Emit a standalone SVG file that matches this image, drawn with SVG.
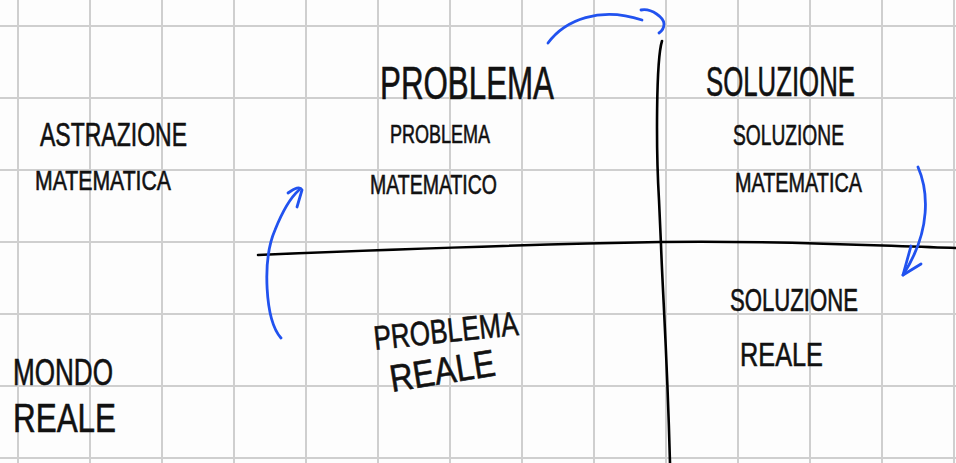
<svg xmlns="http://www.w3.org/2000/svg" width="956" height="463" viewBox="0 0 956 463">
<style>
.grid line{stroke:#cfcfcf;stroke-width:2}
.axis{fill:none;stroke:#000;stroke-width:2.6;stroke-linecap:round}
.arrow{fill:none;stroke:#2152ef;stroke-width:2.8;stroke-linecap:round;stroke-linejoin:round}
text{font-family:"Liberation Sans","DejaVu Sans",sans-serif;fill:#111;stroke:#111;stroke-width:0.6}
</style>
<rect width="956" height="463" fill="#fdfdfd"/>
<g class="grid">
<line x1="18" y1="0" x2="18" y2="463"/><line x1="90" y1="0" x2="90" y2="463"/><line x1="162" y1="0" x2="162" y2="463"/><line x1="234" y1="0" x2="234" y2="463"/><line x1="306" y1="0" x2="306" y2="463"/><line x1="378" y1="0" x2="378" y2="463"/><line x1="450" y1="0" x2="450" y2="463"/><line x1="522" y1="0" x2="522" y2="463"/><line x1="594" y1="0" x2="594" y2="463"/><line x1="666" y1="0" x2="666" y2="463"/><line x1="738" y1="0" x2="738" y2="463"/><line x1="810" y1="0" x2="810" y2="463"/><line x1="882" y1="0" x2="882" y2="463"/><line x1="954" y1="0" x2="954" y2="463"/>
<line x1="0" y1="26" x2="956" y2="26"/><line x1="0" y1="98" x2="956" y2="98"/><line x1="0" y1="170" x2="956" y2="170"/><line x1="0" y1="242" x2="956" y2="242"/><line x1="0" y1="314" x2="956" y2="314"/><line x1="0" y1="386" x2="956" y2="386"/><line x1="0" y1="458" x2="956" y2="458"/>
</g>
<g id="axes">
<path class="axis" d="M662,41 C656,60 656,150 659,200 L661,245 C663,300 667,350 670,463"/>
<path class="axis" d="M258,255 C400,249 550,244 660,242 C780,240 880,246 956,248"/>
</g>
<g id="connectors">
<path class="arrow" d="M548,43 C565,20 600,6 642,20"/>
<path class="arrow" d="M641,10 C652,8 664,18 664,24 C664,28 662,31 659,33"/>
<path class="arrow" d="M281,338 C265,320 262,260 275,230 C283,210 290,198 299,190"/>
<path class="arrow" d="M288,193 C295,188 300,186 302,190 L297,207"/>
<path class="arrow" d="M918,167 C928,190 932,230 903,275"/>
<path class="arrow" d="M911,246 L903,275 L921,264"/>
</g>
<g id="astrazione"><text x="40" y="146" font-size="34" textLength="147" lengthAdjust="spacingAndGlyphs">ASTRAZIONE</text><text x="35" y="190" font-size="27" textLength="136" lengthAdjust="spacingAndGlyphs">MATEMATICA</text></g>
<g id="mondo-reale"><text x="13" y="385" font-size="36" textLength="100" lengthAdjust="spacingAndGlyphs">MONDO</text><text x="13" y="432" font-size="40" textLength="103" lengthAdjust="spacingAndGlyphs">REALE</text></g>
<g id="problema"><text x="380" y="99" font-size="46" textLength="174" lengthAdjust="spacingAndGlyphs">PROBLEMA</text></g>
<g id="problema-matematico"><text x="390" y="143" font-size="26" textLength="100" lengthAdjust="spacingAndGlyphs">PROBLEMA</text><text x="370" y="194" font-size="27" textLength="127" lengthAdjust="spacingAndGlyphs">MATEMATICO</text></g>
<g id="soluzione"><text x="706" y="96" font-size="42" textLength="149" lengthAdjust="spacingAndGlyphs">SOLUZIONE</text></g>
<g id="soluzione-matematica"><text x="733" y="145" font-size="29" textLength="111" lengthAdjust="spacingAndGlyphs">SOLUZIONE</text><text x="735" y="192" font-size="27" textLength="127" lengthAdjust="spacingAndGlyphs">MATEMATICA</text></g>
<g id="problema-reale"><text x="0" y="0" font-size="34" textLength="145" lengthAdjust="spacingAndGlyphs" transform="translate(375,350) rotate(-6)">PROBLEMA</text><text x="0" y="0" font-size="38" textLength="106" lengthAdjust="spacingAndGlyphs" transform="translate(392,392) rotate(-9)">REALE</text></g>
<g id="soluzione-reale"><text x="730" y="311" font-size="32" textLength="128" lengthAdjust="spacingAndGlyphs">SOLUZIONE</text><text x="740" y="366" font-size="34" textLength="83" lengthAdjust="spacingAndGlyphs">REALE</text></g>
</svg>
